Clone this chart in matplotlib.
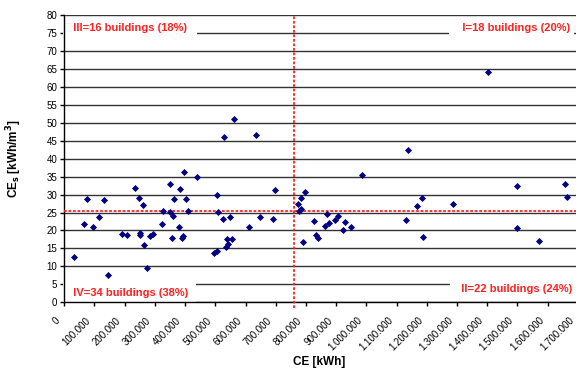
import numpy as np
import matplotlib.pyplot as plt
from matplotlib.ticker import FuncFormatter
import matplotlib.transforms as mtransforms

plt.rcParams['font.family'] = ['Liberation Sans', 'DejaVu Sans']

# annual energy consumption per building [kWh]
ce = [31000, 64000, 76000, 95000, 116000, 132000, 146000, 191000, 207000, 235000,
      247000, 250000, 251000, 259000, 263000, 274000, 283000, 293000, 323000, 328000,
      349000, 351000, 356000, 360000, 363000, 381000, 384000, 390000, 394000, 397000,
      402000, 409000, 439000, 506000, 509000, 524000, 547000, 497000, 506000, 534000,
      543000, 538000, 555000, 610000, 648000, 691000, 696000, 529000, 561000, 634000,
      772000, 777000, 783000, 784000, 797000, 791000, 828000, 833000, 840000, 870000,
      875000, 864000, 896000, 905000, 924000, 928000, 949000, 986000, 1401000, 1137000,
      1500000, 1658000, 1665000, 1184000, 1168000, 1287000, 1131000, 1186000, 1498000, 1572000]
# specific consumption [kWh/m3]
ces = [12.5, 21.9, 28.8, 21.0, 23.7, 28.5, 7.5, 19.1, 18.8, 31.9,
       29.1, 19.2, 18.8, 27.0, 16.0, 9.6, 18.5, 19.1, 21.9, 25.5,
       32.9, 25.1, 17.9, 24.0, 28.8, 21.1, 31.6, 18.0, 18.5, 36.2,
       28.7, 25.3, 34.9, 30.0, 25.2, 23.1, 23.7, 13.6, 14.4, 15.4,
       16.3, 17.6, 17.5, 21.1, 23.8, 23.1, 31.3, 46.0, 51.1, 46.7,
       27.5, 25.4, 25.9, 29.1, 30.8, 16.7, 22.7, 18.7, 17.9, 24.6,
       22.0, 21.2, 22.9, 24.1, 20.1, 22.3, 20.9, 35.6, 64.1, 42.5,
       32.3, 33.0, 29.4, 29.0, 26.7, 27.4, 22.8, 18.2, 20.8, 17.2]

ce_mean = 760000
ces_mean = 25.5

quadrant_labels = ['III=16 buildings (18%)', 'I=18 buildings (20%)',
                   'IV=34 buildings (38%)', 'II=22 buildings (24%)']

fig = plt.figure(figsize=(5.76, 3.68), dpi=100)
ax = fig.add_axes([0.1116, 0.1788, 0.8917, 0.7796])

ax.set_xlim(0, 1700000)
ax.set_ylim(0, 80)
ax.set_xticks(np.arange(0, 1700001, 100000))
ax.set_yticks(np.arange(0, 81, 5))
ax.xaxis.set_major_formatter(FuncFormatter(lambda v, p: f'{int(v):,}'.replace(',', '.')))

ax.grid(axis='y', color='#333333', linewidth=1.0, zorder=0.5)
ax.set_axisbelow(True)
for s in ['top', 'right']:
    ax.spines[s].set_visible(False)
for s in ['left', 'bottom']:
    ax.spines[s].set_color('black')
    ax.spines[s].set_linewidth(1.0)

ax.tick_params(axis='both', length=3, width=1.0, labelsize=7, colors='black')
ax.tick_params(axis='y', pad=2)
ax.tick_params(axis='x', pad=9)
shift = mtransforms.ScaledTranslation(-5.5 / 100, 0, fig.dpi_scale_trans)
for lab in ax.get_xticklabels():
    lab.set_rotation(45)
    lab.set_ha('right')
    lab.set_va('center')
    lab.set_rotation_mode('anchor')
    lab.set_transform(lab.get_transform() + shift)

ax.scatter(ce, ces, marker='D', s=13, color='#000080', linewidths=0, zorder=4)

# mean lines splitting the four quadrants
ax.axvline(ce_mean, ymin=-0.021, color='#ff2020', linestyle=(0, (1.5, 1)),
           linewidth=1.3, zorder=3, clip_on=False)
ax.axhline(ces_mean, color='#ff2020', linestyle=(0, (1.5, 1)), linewidth=1.3, zorder=3)

# white boxes break the gridline behind each quadrant count
box = dict(facecolor='white', edgecolor='none', pad=3)
txt = dict(color='#ff2020', fontsize=8, fontweight='bold', va='center', zorder=2, bbox=box)
ax.text(9000, 76.4, '  ' + quadrant_labels[0] + '  ', ha='left', **txt)
ax.text(1674000, 76.4, '   ' + quadrant_labels[1], ha='right', **txt)
ax.text(9000, 2.7, '  ' + quadrant_labels[2] + ' ', ha='left', **txt)
ax.text(1680000, 3.6, '  ' + quadrant_labels[3], ha='right', **txt)

ax.set_ylabel('CE$_\\mathbf{s}$ [kWh/m$^\\mathbf{3}$]', fontsize=8.5, fontweight='bold')
ax.yaxis.set_label_coords(-0.078, 0.5)
ax.set_xlabel('CE [kWh]', fontsize=8.5, fontweight='bold')
ax.xaxis.set_label_coords(0.497, -0.186)

fig.savefig('out.png', dpi=100)
